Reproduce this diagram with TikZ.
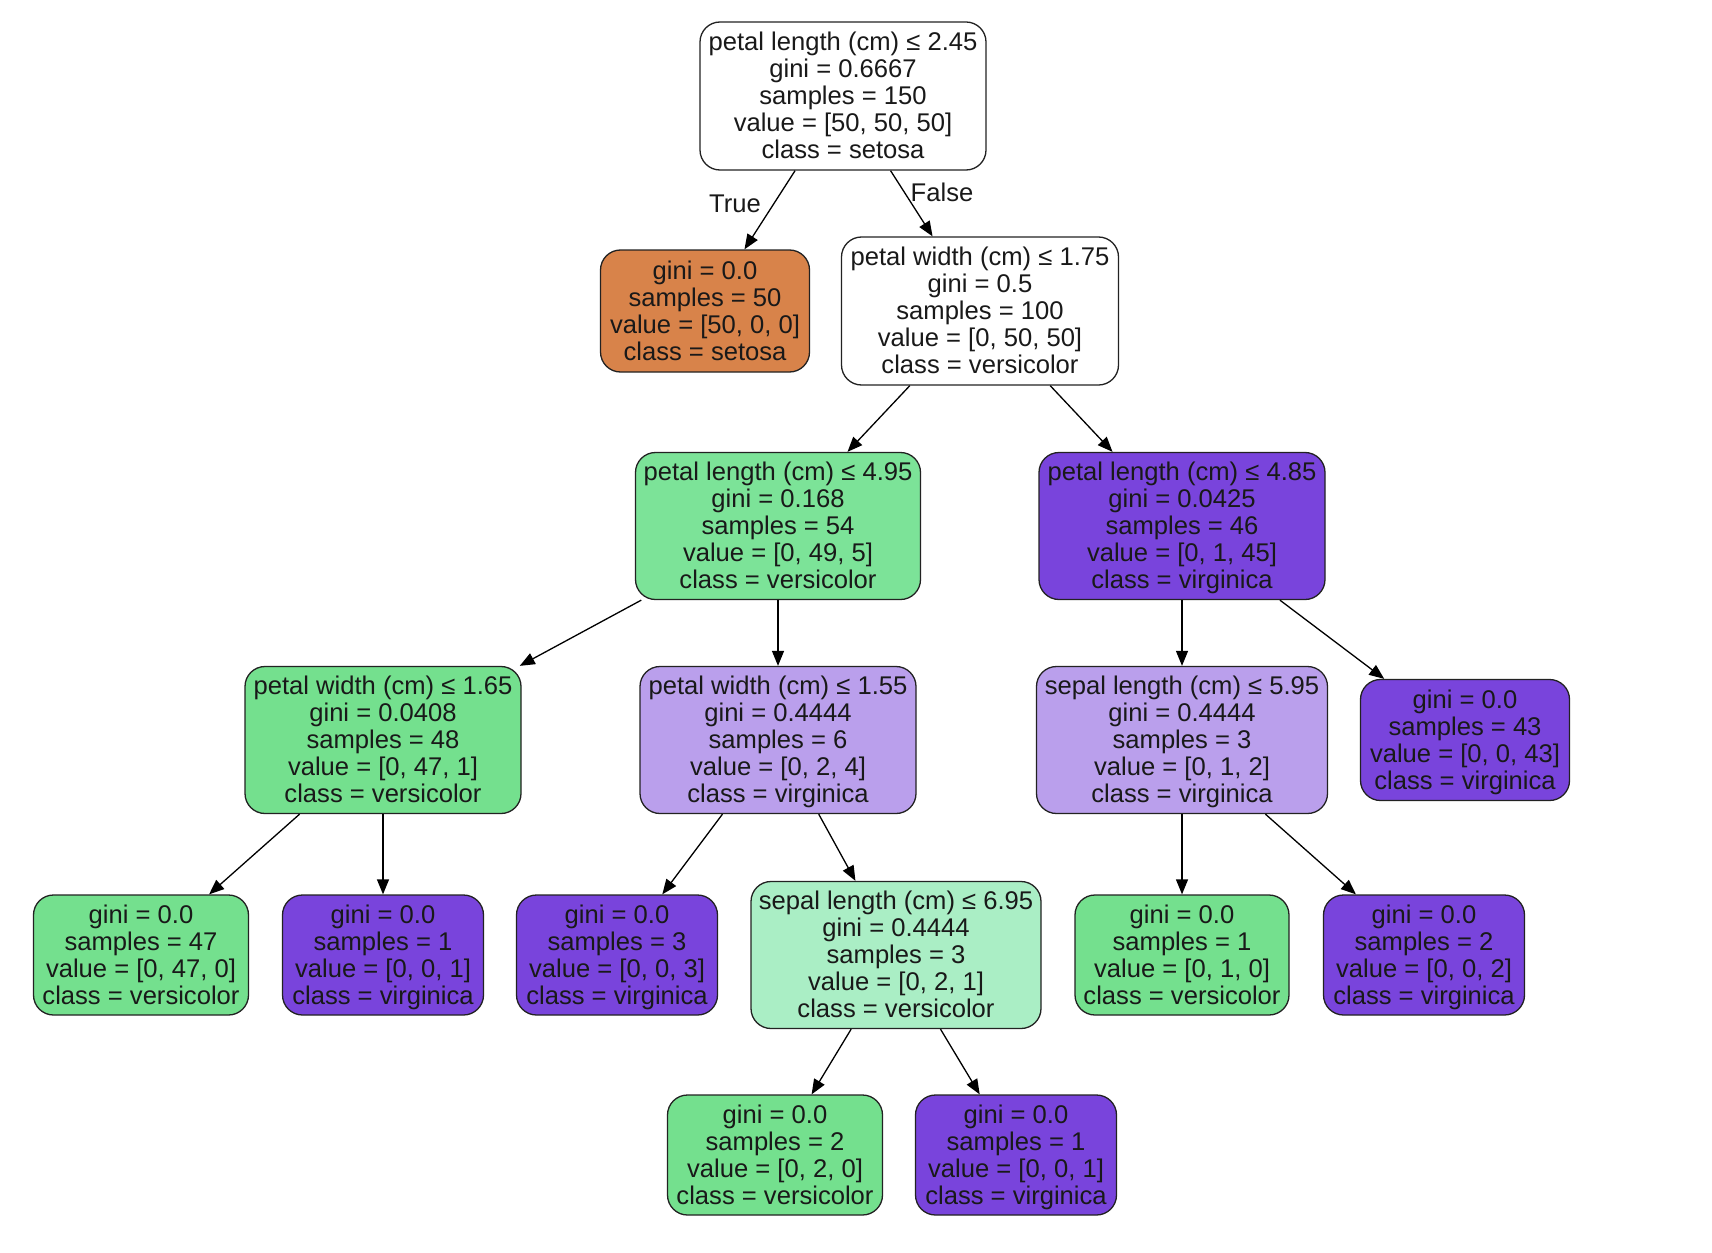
\documentclass[tikz,border=0pt]{standalone}
\usepackage{fontspec}
\setmainfont{Liberation Sans}
\usetikzlibrary{arrows.meta}
\definecolor{cOrange}{HTML}{D8834A}
\definecolor{cGreen}{HTML}{74E08E}
\definecolor{cGreenB}{HTML}{7CE398}
\definecolor{cGreenL}{HTML}{AAEEC5}
\definecolor{cPurple}{HTML}{7944DC}
\definecolor{cPurpleL}{HTML}{BA9FEC}
\definecolor{cLine}{HTML}{222222}
\newcommand\topst{\rule{0pt}{25.8pt}}
\newcommand\botst{\rule[-8.1pt]{0pt}{8.1pt}}
\tikzset{
  treebox/.style={draw=cLine, line width=1.3pt, rounded corners=20pt, align=center,
    inner sep=0pt, font=\fontsize{25.6}{27}\selectfont, text=black!90},
  lbl/.style={font=\fontsize{25.6}{27}\selectfont, text=black!90, inner sep=0pt},
  edge/.style={draw=black, line width=1.3pt, -{Triangle[length=15pt,width=12pt]}}
}
\begin{document}
\begin{tikzpicture}[x=1pt,y=-1pt]
\useasboundingbox (0,0) rectangle (1712,1252);
\node[treebox, fill=white, minimum width=286pt, minimum height=148pt] (root) at (843,96)
  {\topst petal length (cm) ≤ 2.45\\gini = 0.6667\\samples = 150\\value = [50, 50, 50]\\class = setosa\botst};
\node[treebox, fill=cOrange, minimum width=209pt, minimum height=122pt] (setosa) at (705,311)
  {\topst gini = 0.0\\samples = 50\\value = [50, 0, 0]\\class = setosa\botst};
\node[treebox, fill=white, minimum width=277pt, minimum height=148pt] (n2) at (980,311)
  {\topst petal width (cm) ≤ 1.75\\gini = 0.5\\samples = 100\\value = [0, 50, 50]\\class = versicolor\botst};
\node[treebox, fill=cGreenB, minimum width=285pt, minimum height=147pt] (n3) at (778,526)
  {\topst petal length (cm) ≤ 4.95\\gini = 0.168\\samples = 54\\value = [0, 49, 5]\\class = versicolor\botst};
\node[treebox, fill=cPurple, minimum width=286pt, minimum height=147pt] (n4) at (1182,526)
  {\topst petal length (cm) ≤ 4.85\\gini = 0.0425\\samples = 46\\value = [0, 1, 45]\\class = virginica\botst};
\node[treebox, fill=cGreen, minimum width=276pt, minimum height=147pt] (n5) at (383,740)
  {\topst petal width (cm) ≤ 1.65\\gini = 0.0408\\samples = 48\\value = [0, 47, 1]\\class = versicolor\botst};
\node[treebox, fill=cPurpleL, minimum width=276pt, minimum height=147pt] (n6) at (778,740)
  {\topst petal width (cm) ≤ 1.55\\gini = 0.4444\\samples = 6\\value = [0, 2, 4]\\class = virginica\botst};
\node[treebox, fill=cPurpleL, minimum width=291pt, minimum height=147pt] (n7) at (1182,740)
  {\topst sepal length (cm) ≤ 5.95\\gini = 0.4444\\samples = 3\\value = [0, 1, 2]\\class = virginica\botst};
\node[treebox, fill=cPurple, minimum width=209pt, minimum height=121pt] (n8) at (1465,740)
  {\topst gini = 0.0\\samples = 43\\value = [0, 0, 43]\\class = virginica\botst};
\node[treebox, fill=cGreen, minimum width=215pt, minimum height=120pt] (l47) at (141,955)
  {\topst gini = 0.0\\samples = 47\\value = [0, 47, 0]\\class = versicolor\botst};
\node[treebox, fill=cPurple, minimum width=201pt, minimum height=120pt] (l1) at (383,955)
  {\topst gini = 0.0\\samples = 1\\value = [0, 0, 1]\\class = virginica\botst};
\node[treebox, fill=cPurple, minimum width=201pt, minimum height=120pt] (l3) at (617,955)
  {\topst gini = 0.0\\samples = 3\\value = [0, 0, 3]\\class = virginica\botst};
\node[treebox, fill=cGreenL, minimum width=290pt, minimum height=147pt] (n9) at (896,955)
  {\topst sepal length (cm) ≤ 6.95\\gini = 0.4444\\samples = 3\\value = [0, 2, 1]\\class = versicolor\botst};
\node[treebox, fill=cGreen, minimum width=214pt, minimum height=120pt] (l010) at (1182,955)
  {\topst gini = 0.0\\samples = 1\\value = [0, 1, 0]\\class = versicolor\botst};
\node[treebox, fill=cPurple, minimum width=201pt, minimum height=120pt] (l002) at (1424,955)
  {\topst gini = 0.0\\samples = 2\\value = [0, 0, 2]\\class = virginica\botst};
\node[treebox, fill=cGreen, minimum width=215pt, minimum height=120pt] (l020) at (775,1155)
  {\topst gini = 0.0\\samples = 2\\value = [0, 2, 0]\\class = versicolor\botst};
\node[treebox, fill=cPurple, minimum width=201pt, minimum height=120pt] (l001) at (1016,1155)
  {\topst gini = 0.0\\samples = 1\\value = [0, 0, 1]\\class = virginica\botst};
\node[lbl] (tTrue) at (735,204) {True};
\node[lbl] (tFalse) at (942,192) {False};
\path[edge] (root) -- (setosa);
\path[edge] (root) -- (n2);
\path[edge] (n2) -- (n3);
\path[edge] (n2) -- (n4);
\path[edge] (n3) -- (n5);
\path[edge] (n3) -- (n6);
\path[edge] (n4) -- (n7);
\path[edge] (n4) -- (n8);
\path[edge] (n5) -- (l47);
\path[edge] (n5) -- (l1);
\path[edge] (n6) -- (l3);
\path[edge] (n6) -- (n9);
\path[edge] (n7) -- (l010);
\path[edge] (n7) -- (l002);
\path[edge] (n9) -- (l020);
\path[edge] (n9) -- (l001);
\end{tikzpicture}
\end{document}
